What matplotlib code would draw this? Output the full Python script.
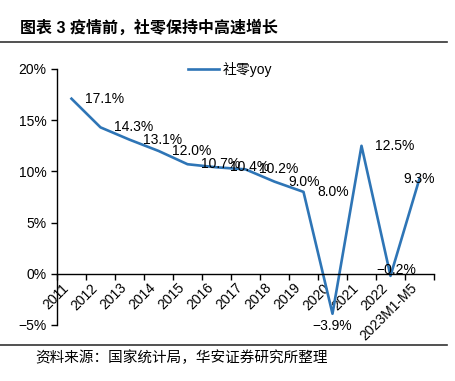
import matplotlib
matplotlib.use("Agg")
import matplotlib.pyplot as plt
from matplotlib.lines import Line2D

plt.rcParams['font.family'] = ['Liberation Sans', 'Noto Sans CJK SC']
plt.rcParams['axes.unicode_minus'] = False

# ================== Données ==================
years = ['2011', '2012', '2013', '2014', '2015', '2016', '2017', '2018',
         '2019', '2020', '2021', '2022', '2023M1-M5']
yoy = [17.1, 14.3, 13.1, 12.0, 10.7, 10.4, 10.2, 9.0, 8.0, -3.9, 12.5, -0.2, 9.3]
yticks = [-5, 0, 5, 10, 15, 20]

blue = '#2E75B6'

fig = plt.figure(figsize=(4.56, 3.81), dpi=100)
ax = fig.add_axes([57 / 456, 1 - 325 / 381, (434 - 57) / 456, (325 - 69) / 381])

# axe x sur le zéro (avant les ticks : set_position réinitialise les ticks)
ax.spines['bottom'].set_position(('data', 0))
ax.spines['top'].set_visible(False)
ax.spines['right'].set_visible(False)
for s in ['left', 'bottom']:
    ax.spines[s].set_color('black')
    ax.spines[s].set_linewidth(1)

x = list(range(len(years)))
ax.plot(x, yoy, color=blue, linewidth=1.9, label='社零yoy')

# étiquettes de valeurs
for i, v in enumerate(yoy):
    txt = f"{v:.1f}%".replace('-', '−')
    if i == 9:
        ax.annotate(txt, (i, v), xytext=(0, -4), textcoords='offset points',
                    ha='center', va='top', fontsize=10)
    elif i == 11:
        ax.annotate(txt, (i, v), xytext=(4, -1), textcoords='offset points',
                    ha='center', va='bottom', fontsize=10)
    elif i == 12:
        ax.annotate(txt, (i, v), xytext=(0, 0), textcoords='offset points',
                    ha='center', va='center', fontsize=10)
    else:
        ax.annotate(txt, (i, v), xytext=(10, 0), textcoords='offset points',
                    ha='left', va='center', fontsize=10)

ax.set_xlim(-0.5, len(years) - 0.5)
ax.set_ylim(-5, 20)
ax.set_yticks(yticks)
ax.set_yticklabels([f"{t}%".replace('-', '−') for t in yticks], fontsize=10)

# étiquettes au centre (major), traits aux frontières (minor)
ax.tick_params(axis='x', which='major', length=0, pad=5)
ax.tick_params(axis='x', which='minor', length=4, direction='out', width=1)
ax.tick_params(axis='y', length=4, direction='out', width=1)
ax.set_xticks(x)
ax.set_xticklabels(years, rotation=45, ha='right', va='top', fontsize=10)
ax.set_xticks([i - 0.5 for i in range(len(years) + 1)], minor=True)

ax.legend(loc='upper center', bbox_to_anchor=(0.46, 1.075), frameon=False,
          fontsize=10, handlelength=2.2, handletextpad=0.3)

# titre et source
fig.text(20 / 456, 1 - 28 / 381, '图表 3 疫情前，社零保持中高速增长',
         fontsize=11.5, fontweight='bold', va='center', ha='left',
         family=['Liberation Sans', 'Noto Sans CJK SC'])
fig.add_artist(Line2D([0, 447 / 456], [1 - 42 / 381] * 2, color='#333333', lw=1.2))
fig.add_artist(Line2D([0, 447 / 456], [1 - 345 / 381] * 2, color='#333333', lw=1.2))
fig.text(35 / 456, 1 - 358 / 381, '资料来源：国家统计局，华安证券研究所整理',
         fontsize=10.5, va='center', ha='left',
         family=['Noto Sans CJK SC', 'Liberation Sans'])

fig.savefig('out.png', dpi=100)
